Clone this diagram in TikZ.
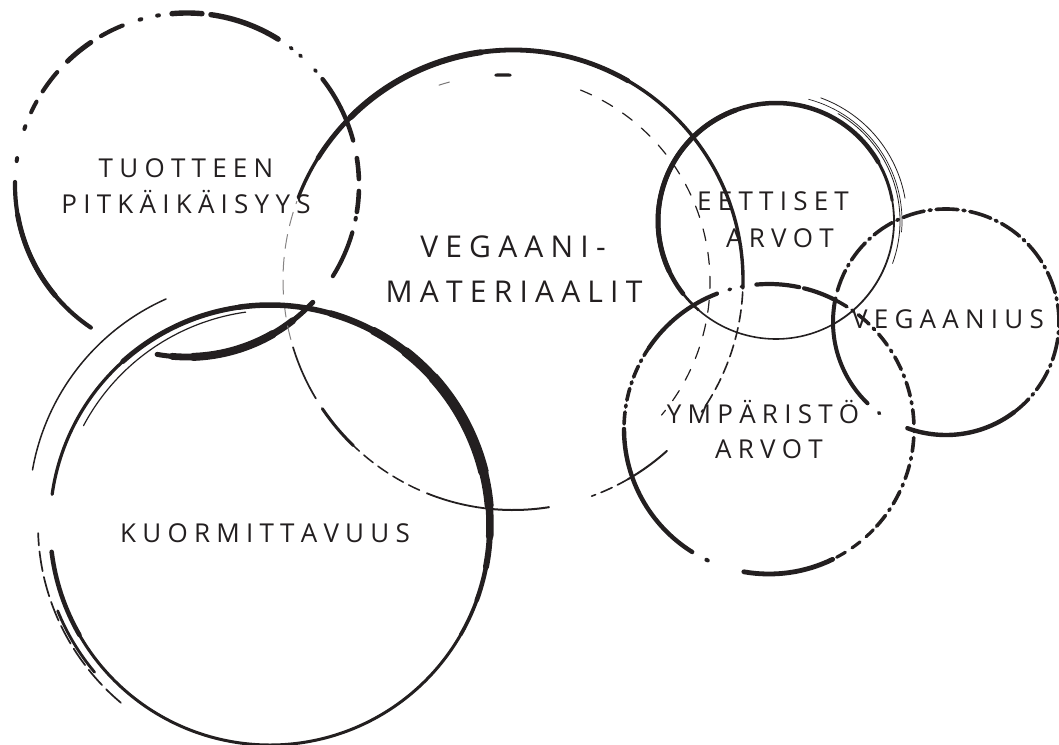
\documentclass[tikz,border=0pt]{standalone}
\usepackage{fontspec}
\setmainfont{Open Sans}
\definecolor{ink}{HTML}{231F20}
% letter tracking between letters (not after the last one)
\def\trkamt{0.24em}
\def\trkend{\trkend}
\def\trkstop#1{}
\def\trkloop#1#2{#1\ifx\trkend#2\expandafter\trkstop\else\kern\trkamt\relax\expandafter\trkloop\fi#2}
\newcommand\trk[1]{\trkloop#1\trkend}
% arcs of a ring: [options]{cx}{cy}{r}{list of start/end/width}
\newcommand\ringseg[5][]{\foreach \sa/\sb/\lw in {#5}{\draw[inkline,line width=\lw pt,#1] ([shift={(\sa:#4)}]#2,#3) arc[start angle=\sa, end angle=\sb, radius=#4];}}
\tikzset{
  inkline/.style={draw=ink, line cap=round},
  lbl/.style={font=\fontsize{26}{30}\selectfont, text=ink, inner sep=0pt, anchor=base},
  lblbig/.style={lbl, font=\fontsize{30}{34}\selectfont},
}
\begin{document}
\begin{tikzpicture}[x=1pt,y=-1pt]
\useasboundingbox (0,0) rectangle (1059,744);
\fill[white] (0,0) rectangle (1059,744);

% ---- circle A: TUOTTEEN PITKAIKAISYYS
\ringseg{187}{185}{172}{124/181/4.2, 140/170/5, 188/189/4, 199/200/4, 205/209/4, 213/221/4.2, 226/236/5, 240/248/4.2, 254/254.6/4, 260/260.6/4, 265/275/5.4, 278/302/5.4, 307/307.6/3.6, 311/311.6/3.6, 318/318.6/3.6, 322/345/4.4, 351/358/4.6, 362/369/4.6, 371/371.6/4, 376/392/4.2, 43/100/5, 52/95/6.8, 60/88/8}

% ---- circle B: VEGAANI-MATERIAALIT
\ringseg{513}{280}{230}{201/362/3.4, 212/300/4.8, 225/262/6, 81/96/2, 96/112/1.8, 134/146/3, 149/163/1.7, 408/420/2}
\ringseg[dash pattern=on 12pt off 6pt]{513}{280}{230}{363/395/1.6, 420/430/1.6, 114/134/1.5}
\ringseg[draw=ink!55, dash pattern=on 14pt off 9pt]{513}{280}{230}{165/200/1}
\ringseg[dash pattern=on 12pt off 12pt]{503}{282}{207}{292/400/1.2}
\ringseg{503}{282}{207}{268/272/3.2}
\ringseg[draw=ink!60]{503}{282}{207}{252/255/1}

% ---- circle C: KUORMITTAVUUS
\ringseg{270}{525}{220}{188/228/3.2, 228/262/5, 262/290/5.5, 286/300/6.5, 298/310/8, 308/320/9.5, 318/346/10.5, 344/355/9, 353/363/7.5, 361/371/6, 369/380/4.5, 378/390/3.6, 388/450/3, 90/150/3, 150/173/4.5}
\ringseg{260}{510}{231}{190/246/1.5}
\ringseg[dash pattern=on 20pt off 6pt]{270}{525}{232}{130/178/1.7}
\ringseg{270}{525}{229}{140/158/2.8}
\ringseg{276}{528}{218}{208/262/1.2}

% ---- circle D: EETTISET ARVOT
\ringseg{776}{221}{118}{142/330/4.5, 155/250/5, 330/350/3, 350/420/1.8, 420/491/1.6, 491/502/2.6}
\ringseg{776}{221}{131}{290/350/0.8}
\ringseg{776}{221}{126}{285/365/0.7}
\ringseg{776}{221}{124}{300/380/0.8}

% ---- circle E: VEGAANIUS
\ringseg{946}{322}{113}{134/192/4, 53/110/4.4, 126/126.6/3.6}
\ringseg[dash pattern=on 22pt off 5pt on 2pt off 5pt]{946}{322}{113}{196/413/3.6}

% ---- circle F: YMPARISTO ARVOT
\ringseg{769}{429}{145}{214/249/4.2, 265/282/4.2, 284/297/4.2, 64/100/4.8, 122/180/4.4, 115/115.6/4, 254/254.6/3.5, 259/259.6/3.5}
\ringseg[dash pattern=on 14pt off 6pt on 2pt off 6pt]{769}{429}{145}{297/404/3.6}
\ringseg[dash pattern=on 10pt off 8pt]{769}{429}{145}{404/424/3.2}
\ringseg[dash pattern=on 12pt off 5pt on 2pt off 5pt]{769}{429}{145}{182/214/3.6}

% ---- labels
\node[lbl] (a1) at (186,177) {\trk{TUOTTEEN}};
\node[lbl] (a2) at (186,213) {\trk{PITKÄIKÄISYYS}};
\node[lblbig] (b1) at (513,257) {\trk{VEGAANI-}};
\node[lblbig] (b2) at (514,302) {\trk{MATERIAALIT}};
\node[lbl] (c1) at (265,542) {\trk{KUORMITTAVUUS}};
\node[lbl] (d1) at (773,210) {\trk{EETTISET}};
\node[lbl] (d2) at (780,247) {\trk{ARVOT}};
\node[lbl] (e1) at (948,328) {\trk{VEGAANIUS}};
\node[lbl] (f1) at (763,423) {\trk{YMPÄRISTÖ}};
\node[lbl] (f2) at (769,458) {\trk{ARVOT}};
\end{tikzpicture}
\end{document}
